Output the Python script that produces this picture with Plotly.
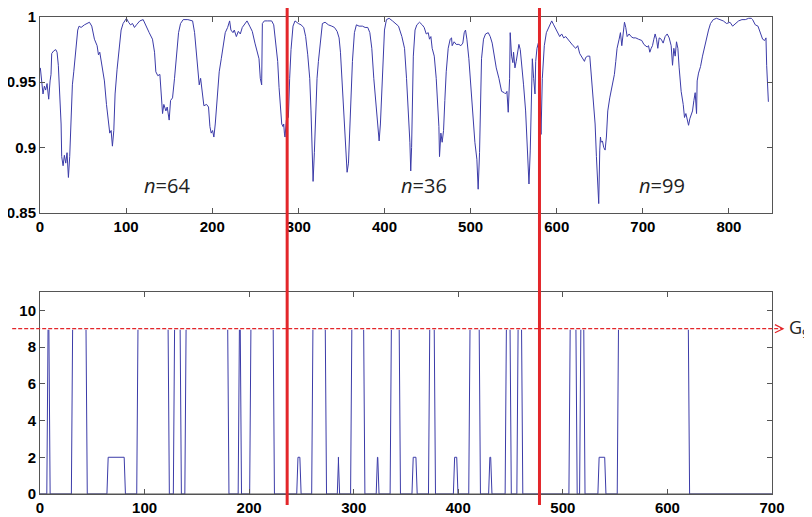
import plotly.graph_objects as go

# ---- top panel: normalised signal ----
sig_x = [
    0.4, 2.0, 3.5, 5.1, 6.6, 8.2, 10.1, 11.7, 12.8, 13.6, 15.9, 18.3, 19.8, 21.3, 22.9, 24.5, 25.2, 26.8,
    28.3, 29.9, 31.4, 33.0, 34.5, 36.1, 37.6, 39.2, 41.5, 43.8, 45.4, 47.7, 51.6, 57.4, 60.1, 63.2, 66.3,
    67.9, 69.4, 71.7, 74.8, 77.2, 79.5, 81.0, 82.6, 84.1, 85.7, 87.2, 89.5, 91.9, 94.2, 96.5, 98.9, 100.4,
    102.8, 105.1, 107.4, 109.7, 112.0, 115.9, 119.8, 122.9, 126.8, 130.6, 133.0, 134.5, 136.8, 139.2,
    140.7, 142.3, 143.8, 146.2, 147.7, 150.0, 151.6, 153.9, 156.2, 158.5, 160.9, 163.2, 166.3, 171.7,
    177.2, 179.5, 181.8, 183.4, 184.9, 186.5, 188.0, 190.3, 193.4, 195.7, 197.3, 198.8, 200.4, 201.9,
    203.5, 205.8, 208.1, 210.5, 212.8, 215.1, 217.9, 220.2, 221.7, 224.1, 225.6, 228.0, 230.3, 232.6,
    234.9, 238.0, 240.4, 243.5, 246.5, 249.6, 251.9, 254.3, 255.8, 257.4, 258.2, 260.5, 264.4, 269.0,
    271.4, 273.7, 276.0, 277.6, 279.1, 280.7, 282.2, 283.0, 283.8, 284.5, 286.1,
    288.4, 289.9, 291.5, 293.8, 296.1, 300.0, 303.1, 306.2, 308.5, 310.9, 313.2, 314.7, 316.3, 317.1,
    318.6, 320.2, 321.7, 323.3, 325.6, 327.9, 331.0, 334.9, 338.8, 341.9, 345.0, 347.3, 348.9, 350.4,
    352.0, 353.5, 355.1, 356.6, 358.2, 359.7, 361.3, 362.8, 365.1, 367.4, 370.5, 374.4, 377.5, 380.6,
    383.0, 385.3, 387.6, 389.9, 392.2, 393.8, 395.3, 396.9, 398.4, 400.0, 402.3, 405.4, 409.3, 413.2,
    416.3, 420.2, 423.3, 425.6, 427.9, 429.5, 430.5, 431.5, 433.5, 435.5, 437.6, 440.7, 443.8, 446.1,
    448.5, 450.8, 452.3, 453.9, 455.4, 457.8, 460.1, 461.6, 463.2, 463.9, 465.5, 467.0, 468.6, 470.1,
    471.7, 474.0, 476.3, 477.9, 478.6, 480.9, 483.3, 486.4, 488.7, 491.0, 492.6, 494.1, 495.7, 498.0,
    500.3, 502.6, 505.0, 507.3, 508.8, 510.4, 511.2, 512.7, 515.0, 517.4, 520.5, 522.8, 525.1, 527.4,
    529.8, 532.9, 536.0, 539.1, 540.6, 542.2, 543.7, 545.3, 546.0, 547.6, 549.1, 549.9, 551.5, 553.0,
    554.6, 556.1, 557.7, 559.2, 561.5, 563.9, 565.4, 567.0, 567.8, 569.3, 570.9, 571.7, 573.2, 574.8,
    575.6, 577.1, 578.7,
    580.2, 581.8, 583.3, 585.6, 588.0, 591.1, 594.2, 596.5, 598.8, 601.2, 603.5, 605.8, 608.1, 610.5,
    612.8, 615.9, 619.0, 622.1, 624.4, 626.7, 629.8, 632.2, 633.7, 636.0, 638.4, 639.9, 642.2, 644.6,
    646.1, 647.7, 648.8, 650.0, 650.8, 651.6, 653.1, 654.6, 656.2, 657.7, 659.3, 661.6, 663.9, 665.5,
    667.0, 668.6, 670.1, 672.5, 674.0, 675.6, 677.1, 678.7, 680.2, 681.8, 684.1, 686.4, 688.7, 691.8,
    694.9, 698.8, 701.2, 703.5, 705.0, 706.6, 708.1, 709.7, 711.2, 712.8, 714.3, 715.9, 717.4, 719.0,
    721.3, 723.6, 725.9, 728.3, 730.6, 732.9, 734.5, 736.0, 737.6, 739.1, 740.7, 742.2, 744.5, 746.9,
    748.4, 750.0, 751.5, 753.1, 754.6, 756.2, 757.7, 759.3, 760.8, 762.4, 763.1, 764.7, 767.0, 769.3,
    772.4, 774.8, 776.3, 778.6, 781.8, 785.6, 789.5, 793.4, 797.3, 801.2, 804.3, 807.4, 811.2, 815.1,
    819.0, 822.9, 826.0, 827.5, 830.6, 833.7, 836.8, 839.1, 841.5, 843.0, 843.8, 844.6, 845.8,
]
sig_y = [
    0.961, 0.949, 0.941, 0.947, 0.944, 0.949, 0.937, 0.951, 0.956, 0.972, 0.974, 0.975, 0.973, 0.963, 0.938, 0.918, 0.893, 0.886,
    0.894, 0.888, 0.896, 0.877, 0.893, 0.921, 0.948, 0.958, 0.975, 0.990, 0.993, 0.992, 0.994, 0.996, 0.993, 0.983, 0.978,
    0.971, 0.973, 0.964, 0.951, 0.933, 0.916, 0.911, 0.913, 0.901, 0.913, 0.941, 0.960, 0.978, 0.990, 0.995, 0.997, 0.999,
    0.996, 0.994, 0.995, 0.992, 0.994, 0.997, 0.998, 0.993, 0.988, 0.983, 0.973, 0.958, 0.955, 0.956,
    0.941, 0.926, 0.933, 0.928, 0.931, 0.921, 0.936, 0.938, 0.953, 0.973, 0.988, 0.995, 0.998, 0.998,
    0.997, 0.988, 0.973, 0.961, 0.948, 0.953, 0.943, 0.932, 0.933, 0.931, 0.916, 0.911, 0.913, 0.908,
    0.918, 0.936, 0.958, 0.968, 0.980, 0.988, 0.992, 0.997, 0.990, 0.988, 0.990, 0.985, 0.989, 0.987,
    0.992, 0.995, 0.997, 0.993, 0.989, 0.980, 0.973, 0.968, 0.953, 0.948, 0.995, 0.997, 0.997, 0.997,
    0.994, 0.980, 0.966, 0.946, 0.928, 0.918, 0.916, 0.918, 0.911, 0.908, 0.921,
    0.923, 0.953, 0.975, 0.993, 0.997, 0.995, 0.994, 0.992, 0.985, 0.971, 0.953, 0.928, 0.899, 0.874,
    0.896, 0.928, 0.953, 0.966, 0.983, 0.995, 0.996, 0.994, 0.993, 0.992, 0.989, 0.984, 0.973, 0.953,
    0.931, 0.916, 0.896, 0.881, 0.888, 0.913, 0.938, 0.966, 0.988, 0.994, 0.993, 0.993, 0.992, 0.992,
    0.988, 0.976, 0.953, 0.936, 0.921, 0.905, 0.918, 0.941, 0.971, 0.990, 0.998, 0.999, 0.997, 0.995,
    0.993, 0.985, 0.976, 0.953, 0.928, 0.904, 0.882, 0.900, 0.970, 0.990, 0.994, 0.996, 0.994, 0.992,
    0.987, 0.988, 0.983, 0.985, 0.976, 0.970, 0.953, 0.933, 0.916, 0.893, 0.911, 0.904, 0.913, 0.936,
    0.958, 0.976, 0.983, 0.984, 0.978, 0.981, 0.979, 0.979, 0.978, 0.980, 0.988, 0.990, 0.983, 0.968,
    0.946, 0.921, 0.904, 0.891, 0.868, 0.896, 0.928, 0.968, 0.983, 0.987, 0.988, 0.985, 0.980, 0.970,
    0.961, 0.953, 0.943, 0.942, 0.941, 0.943, 0.927, 0.953, 0.988, 0.970, 0.965, 0.973, 0.961, 0.966,
    0.973, 0.979, 0.975, 0.966, 0.948, 0.928, 0.904, 0.886, 0.872, 0.898, 0.933, 0.968, 0.953, 0.941,
    0.966, 0.976, 0.980,
    0.940, 0.910, 0.953, 0.978, 0.988, 0.993, 0.997, 0.994, 0.991, 0.988, 0.985, 0.987, 0.984, 0.985,
    0.983, 0.980, 0.978, 0.976, 0.978, 0.972, 0.968, 0.966, 0.969, 0.970, 0.970, 0.958, 0.936, 0.918,
    0.893, 0.876, 0.857, 0.898, 0.908, 0.904, 0.905, 0.900, 0.898, 0.908, 0.928, 0.938, 0.946, 0.953,
    0.956, 0.966, 0.976, 0.983, 0.988, 0.978, 0.990, 0.996, 0.992, 0.985, 0.987, 0.985, 0.984, 0.984,
    0.983, 0.982, 0.979, 0.978, 0.977, 0.978, 0.973, 0.976, 0.978, 0.983, 0.987, 0.983, 0.976, 0.984,
    0.983, 0.980, 0.985, 0.987, 0.984, 0.978, 0.963, 0.976, 0.970, 0.981, 0.976, 0.961, 0.943, 0.933,
    0.923, 0.926, 0.921, 0.917, 0.922, 0.926, 0.928, 0.936, 0.942, 0.926, 0.951, 0.957, 0.962, 0.970,
    0.980, 0.985, 0.990, 0.995, 0.998, 0.999, 0.998, 0.997, 0.995, 0.996, 0.993, 0.995, 0.997, 0.998,
    0.998, 0.999, 0.999, 0.998, 0.994, 0.993, 0.988, 0.983, 0.982, 0.984, 0.963, 0.946, 0.935,
]

# ---- bottom panel: state level, given as change points ----
g_edge_x = [6.5, 8.5, 30, 44, 64, 80.5, 92.5, 122.5, 127.5, 134, 138.5, 179.5, 189.5, 191.5,
            200.5, 223, 245.5, 248.5, 259.8, 272.8, 284.3, 285.3, 297, 309.5, 321.5, 323,
            334.8, 343.5, 355.7, 359.5, 371.5, 377, 395.3, 398.5, 410, 420, 429, 431,
            444.8, 449.5, 456, 460.5, 505.8, 512.5, 516, 520, 533.5, 540, 552, 620]
g_level = [9, 0, 9, 0, 2, 0, 9, 0, 9, 0, 9, 0, 9, 0,
           9, 0, 2, 0, 9, 0, 2, 0, 9, 0, 2, 0,
           9, 0, 2, 0, 9, 0, 2, 0, 9, 0, 2, 0,
           9, 0, 9, 0, 9, 0, 9, 0, 2, 0, 9, 0]
g_threshold = 9

# segment boundaries (top-panel sample index) and segment counts
boundaries = [287, 580]
seg_label_x = [147, 446, 722]
seg_label = ["64", "36", "99"]

TOP_RANGE = [0, 850]
BOT_RANGE = [0, 700]
dom_top = [0.5897, 1.0]
dom_bot = [0.0, 0.4235]

BLUE = "#3b3ba8"
RED = "#e3262a"
AXIS = "#555555"

# step trace with short ramps between levels
ramp = 1.2
gx, gy = [0], [0]
prev = 0
for x, lv in zip(g_edge_x, g_level):
    gx += [x, x + ramp]
    gy += [prev, lv]
    prev = lv
gx.append(BOT_RANGE[1])
gy.append(prev)

fig = go.Figure()
fig.add_trace(go.Scatter(x=sig_x, y=sig_y, mode="lines", xaxis="x", yaxis="y",
                         line=dict(color=BLUE, width=1), showlegend=False))
fig.add_trace(go.Scatter(x=gx, y=gy, mode="lines", xaxis="x2", yaxis="y2",
                         line=dict(color=BLUE, width=1), showlegend=False))

tick_font = dict(family="Liberation Sans", size=15, color="black", weight="bold")
axis_style = dict(showline=True, linecolor=AXIS, linewidth=1, mirror="ticks",
                  ticks="inside", ticklen=5, tickcolor=AXIS, showgrid=False,
                  zeroline=False, tickfont=tick_font, fixedrange=True, automargin=False,
                  ticklabeloverflow="allow")

# the page body adds an 8px offset, so the figure is sized to fit the window
fig.update_layout(
    width=804, height=509,
    margin=dict(l=32, r=40, t=9, b=23),
    plot_bgcolor="white", paper_bgcolor="white",
    xaxis=dict(domain=[0, 1], range=TOP_RANGE, tickvals=list(range(0, 801, 100)),
               anchor="y", **axis_style),
    yaxis=dict(domain=dom_top, range=[0.85, 1.0], tickvals=[0.85, 0.9, 0.95, 1.0],
               ticktext=["0.85", "0.9", "0.95", "1"], anchor="x", **axis_style),
    xaxis2=dict(domain=[0, 1], range=BOT_RANGE, tickvals=list(range(0, 701, 100)),
                anchor="y2", **axis_style),
    yaxis2=dict(domain=dom_bot, range=[0, 11], tickvals=list(range(0, 11, 2)),
                anchor="x2", **axis_style),
)

# baseline redrawn over the trace so the zero level merges with the axis
fig.add_shape(type="line", xref="paper", yref="paper", x0=0, x1=1, y0=dom_bot[0], y1=dom_bot[0],
              line=dict(color=AXIS, width=1.2), layer="above")

# threshold line (G9) across the lower panel, with an open arrowhead
y9 = dom_bot[0] + (dom_bot[1] - dom_bot[0]) * g_threshold / 11
fig.add_shape(type="line", xref="paper", yref="paper", x0=0, x1=1, y0=y9, y1=y9,
              line=dict(color="white", width=2), layer="above")
fig.add_shape(type="line", xref="paper", yref="paper", x0=-0.038, x1=1.015, y0=y9, y1=y9,
              line=dict(color=RED, width=1.3, dash="4px,2px"), layer="above")
fig.add_shape(type="path", xref="paper", yref="paper",
              path=f"M 1.004,{y9 + 0.0085} L 1.015,{y9} L 1.004,{y9 - 0.0085}",
              line=dict(color=RED, width=1.3), layer="above")
fig.add_annotation(x=1.02, y=y9, xref="paper", yref="paper", xanchor="left", yanchor="middle",
                   text="G<sub>9</sub>", showarrow=False,
                   font=dict(family="Open Sans", size=18, color="#222222"))

# segment boundaries spanning both panels
for b in boundaries:
    xp = b / TOP_RANGE[1]
    fig.add_shape(type="line", xref="paper", yref="paper", x0=xp, x1=xp, y0=-0.023, y1=1.04,
                  line=dict(color=RED, width=3), layer="above")

for x, n in zip(seg_label_x, seg_label):
    fig.add_annotation(x=x, y=0.871, xref="x", yref="y", text=f"<i>n</i>={n}", showarrow=False,
                       font=dict(family="Open Sans", size=20, color="#222222"))

fig.write_html("out.html")
